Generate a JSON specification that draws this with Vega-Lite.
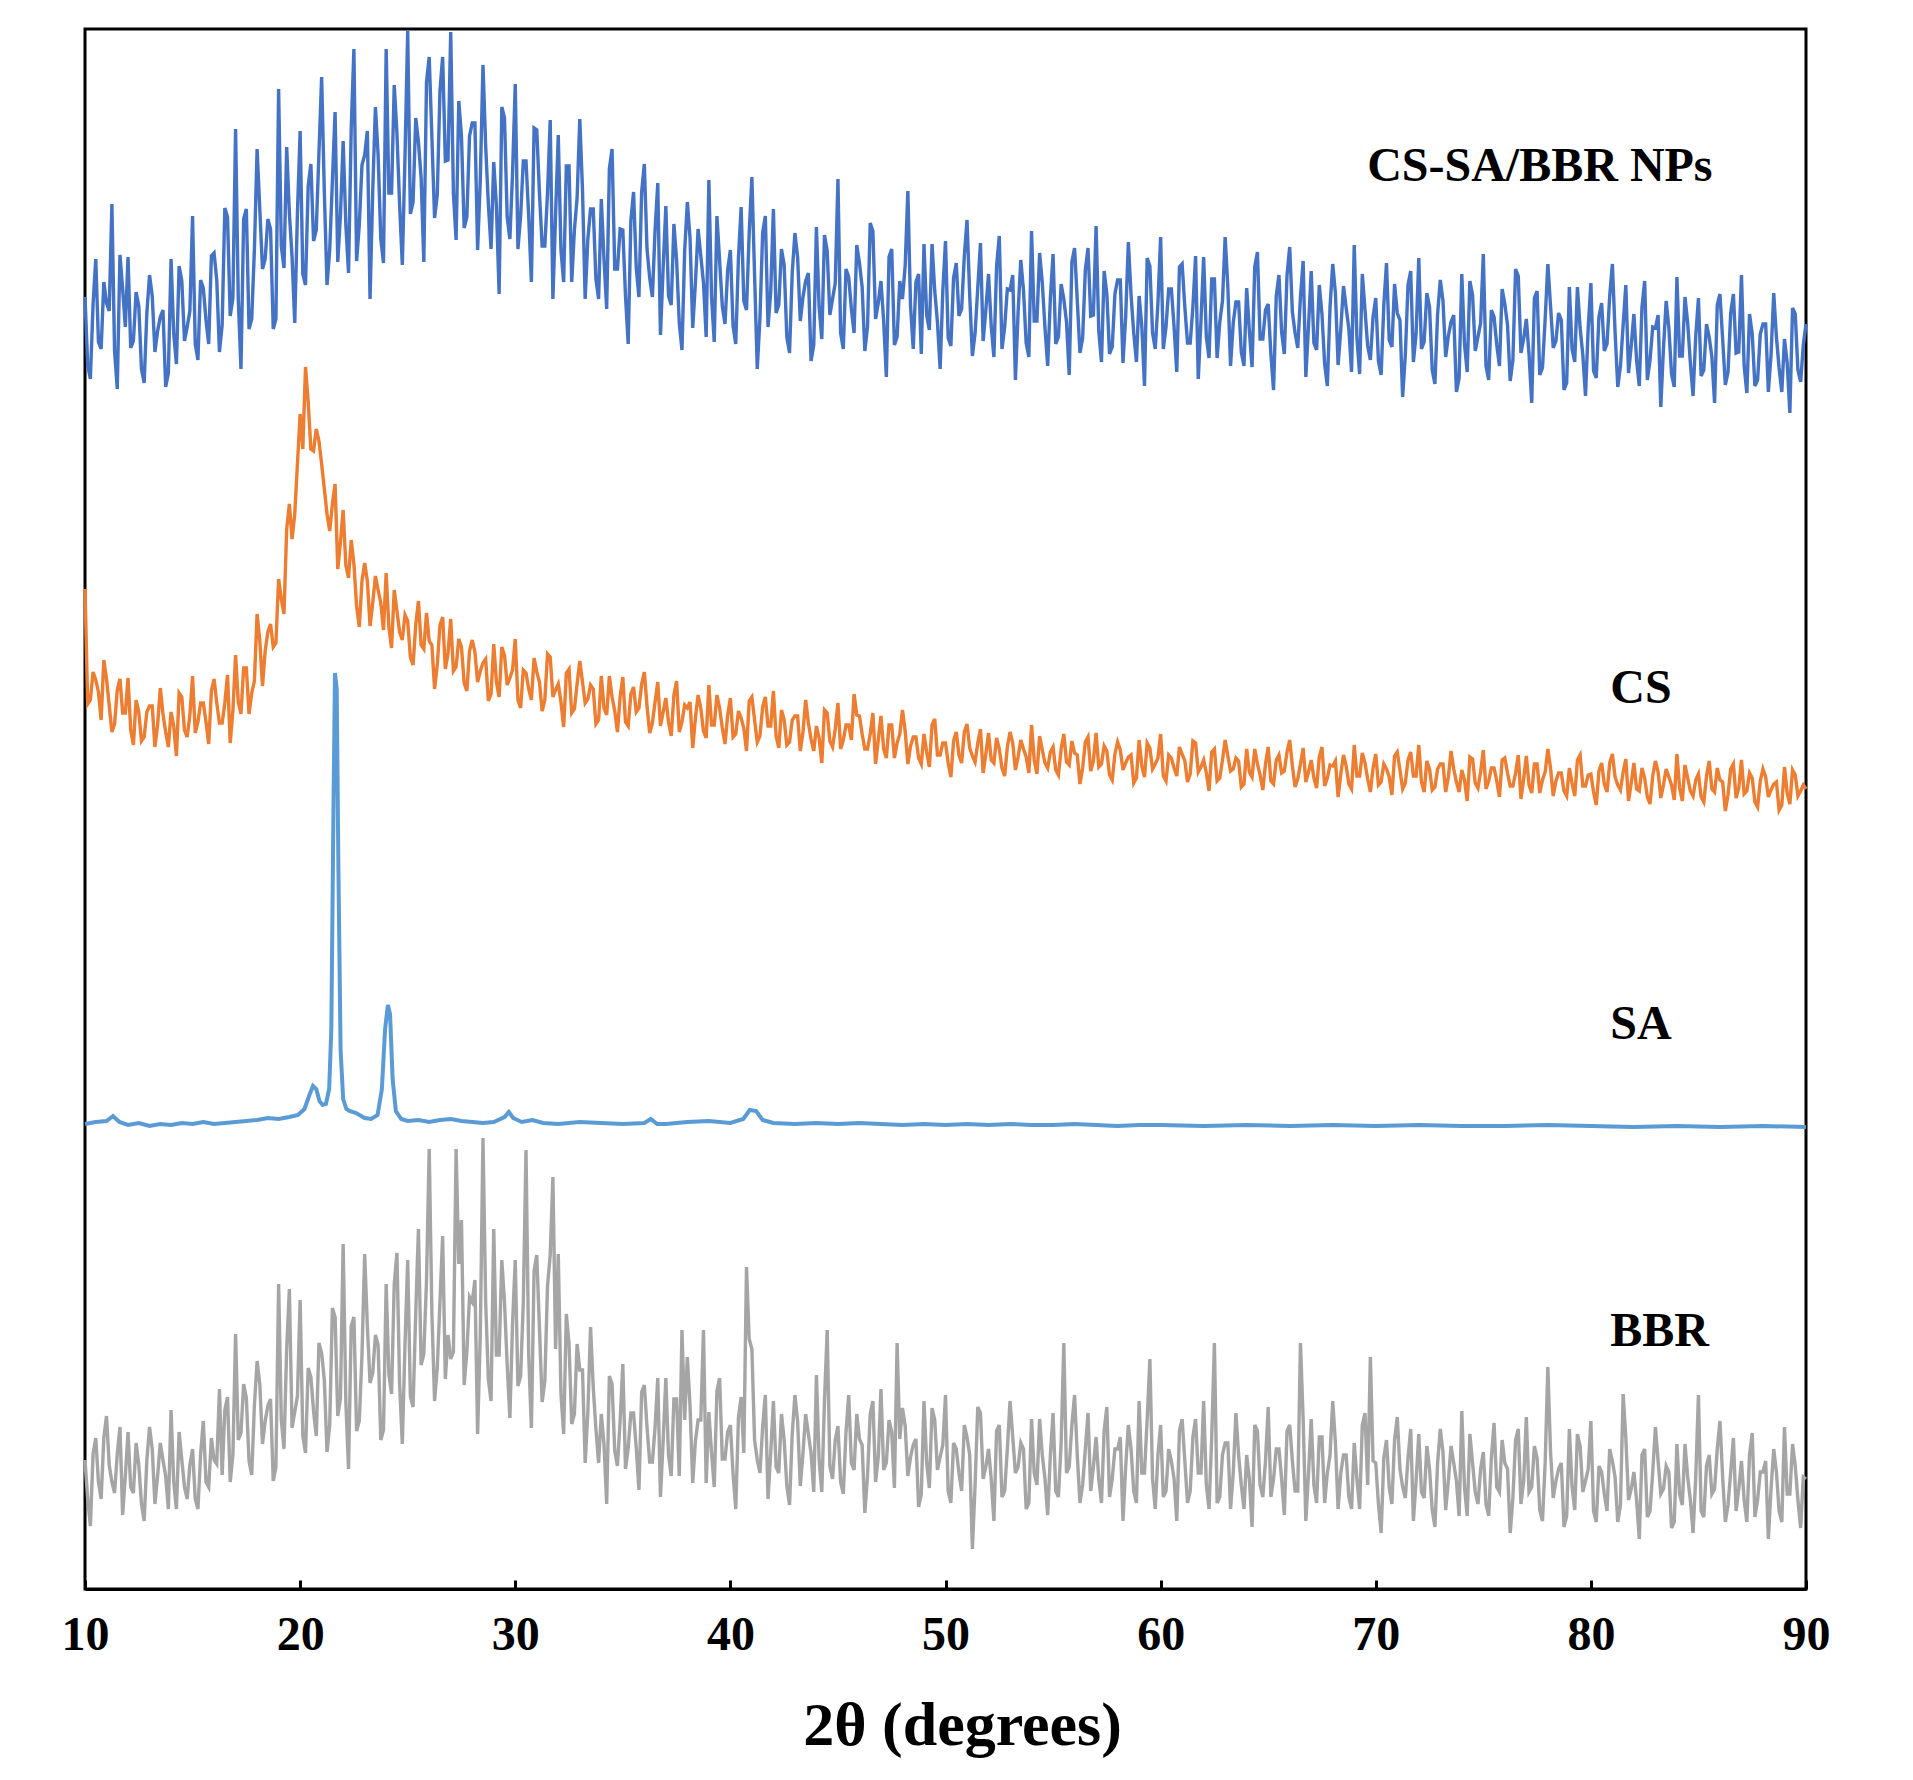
{
  "$schema": "https://vega.github.io/schema/vega-lite/v6.json",
  "width": 1721,
  "height": 1560,
  "autosize": {"type": "none"},
  "padding": {"left": 85, "top": 29, "right": 107, "bottom": 191},
  "background": "white",
  "config": {
    "view": {"stroke": "black", "strokeWidth": 3},
    "line": {"strokeJoin": "miter"}
  },
  "datasets": {
    "csSaBbrNps": [
      {"t":10,"i":1292},{"t":10.25,"i":1210},{"t":10.5,"i":1330},{"t":10.75,"i":1240},
      {"t":11,"i":1286},{"t":11.25,"i":1385},{"t":11.5,"i":1200},{"t":11.75,"i":1300},
      {"t":12,"i":1332},{"t":12.25,"i":1248},{"t":12.5,"i":1283},{"t":12.75,"i":1206},
      {"t":13,"i":1314},{"t":13.25,"i":1237},{"t":13.5,"i":1272},{"t":13.75,"i":1202},
      {"t":14,"i":1330},{"t":14.25,"i":1225},{"t":14.5,"i":1308},{"t":14.75,"i":1262},
      {"t":15,"i":1373},{"t":15.25,"i":1229},{"t":15.5,"i":1301},{"t":15.75,"i":1245},
      {"t":16,"i":1336},{"t":16.25,"i":1237},{"t":16.5,"i":1381},{"t":16.75,"i":1273},
      {"t":17,"i":1460},{"t":17.25,"i":1220},{"t":17.5,"i":1380},{"t":17.75,"i":1270},
      {"t":18,"i":1440},{"t":18.25,"i":1320},{"t":18.5,"i":1370},{"t":18.75,"i":1260},
      {"t":19,"i":1500},{"t":19.25,"i":1321},{"t":19.5,"i":1376},{"t":19.75,"i":1266},
      {"t":20,"i":1458},{"t":20.25,"i":1304},{"t":20.5,"i":1425},{"t":20.75,"i":1359},
      {"t":21,"i":1512},{"t":21.25,"i":1304},{"t":21.5,"i":1408},{"t":21.75,"i":1327},
      {"t":22,"i":1448},{"t":22.25,"i":1316},{"t":22.5,"i":1540},{"t":22.75,"i":1364},
      {"t":23,"i":1434},{"t":23.25,"i":1290},{"t":23.5,"i":1482},{"t":23.75,"i":1350},
      {"t":24,"i":1540},{"t":24.25,"i":1396},{"t":24.5,"i":1456},{"t":24.75,"i":1324},
      {"t":25,"i":1558},{"t":25.25,"i":1387},{"t":25.5,"i":1447},{"t":25.75,"i":1327},
      {"t":26,"i":1532},{"t":26.25,"i":1371},{"t":26.5,"i":1498},{"t":26.75,"i":1428},
      {"t":27,"i":1557},{"t":27.25,"i":1349},{"t":27.5,"i":1453},{"t":27.75,"i":1372},
      {"t":28,"i":1466},{"t":28.25,"i":1339},{"t":28.5,"i":1524},{"t":28.75,"i":1385},
      {"t":29,"i":1427},{"t":29.25,"i":1295},{"t":29.5,"i":1471},{"t":29.75,"i":1350},
      {"t":30,"i":1505},{"t":30.25,"i":1373},{"t":30.5,"i":1428},{"t":30.75,"i":1307},
      {"t":31,"i":1459},{"t":31.25,"i":1343},{"t":31.5,"i":1396},{"t":31.75,"i":1290},
      {"t":32,"i":1454},{"t":32.25,"i":1307},{"t":32.5,"i":1423},{"t":32.75,"i":1359},
      {"t":33,"i":1470},{"t":33.25,"i":1290},{"t":33.5,"i":1380},{"t":33.75,"i":1310},
      {"t":34,"i":1390},{"t":34.25,"i":1280},{"t":34.5,"i":1440},{"t":34.75,"i":1320},
      {"t":35,"i":1359},{"t":35.25,"i":1245},{"t":35.5,"i":1397},{"t":35.75,"i":1292},
      {"t":36,"i":1425},{"t":36.25,"i":1311},{"t":36.5,"i":1359},{"t":36.75,"i":1254},
      {"t":37,"i":1383},{"t":37.25,"i":1284},{"t":37.5,"i":1329},{"t":37.75,"i":1239},
      {"t":38,"i":1387},{"t":38.25,"i":1261},{"t":38.5,"i":1360},{"t":38.75,"i":1306},
      {"t":39,"i":1409},{"t":39.25,"i":1247},{"t":39.5,"i":1328},{"t":39.75,"i":1265},
      {"t":40,"i":1339},{"t":40.25,"i":1245},{"t":40.5,"i":1382},{"t":40.75,"i":1279},
      {"t":41,"i":1412},{"t":41.25,"i":1220},{"t":41.5,"i":1356},{"t":41.75,"i":1262},
      {"t":42,"i":1380},{"t":42.25,"i":1284},{"t":42.5,"i":1324},{"t":42.75,"i":1236},
      {"t":43,"i":1356},{"t":43.25,"i":1268},{"t":43.5,"i":1308},{"t":43.75,"i":1228},
      {"t":44,"i":1362},{"t":44.25,"i":1250},{"t":44.5,"i":1338},{"t":44.75,"i":1290},
      {"t":45,"i":1410},{"t":45.25,"i":1240},{"t":45.5,"i":1312},{"t":45.75,"i":1256},
      {"t":46,"i":1326},{"t":46.25,"i":1238},{"t":46.5,"i":1366},{"t":46.75,"i":1270},
      {"t":47,"i":1308},{"t":47.25,"i":1212},{"t":47.5,"i":1340},{"t":47.75,"i":1252},
      {"t":48,"i":1290},{"t":48.25,"i":1398},{"t":48.5,"i":1240},{"t":48.75,"i":1315},
      {"t":49,"i":1345},{"t":49.25,"i":1259},{"t":49.5,"i":1298},{"t":49.75,"i":1220},
      {"t":50,"i":1348},{"t":50.25,"i":1243},{"t":50.5,"i":1326},{"t":50.75,"i":1280},
      {"t":51,"i":1369},{"t":51.25,"i":1233},{"t":51.5,"i":1301},{"t":51.75,"i":1248},
      {"t":52,"i":1315},{"t":52.25,"i":1232},{"t":52.5,"i":1353},{"t":52.75,"i":1262},
      {"t":53,"i":1299},{"t":53.25,"i":1209},{"t":53.5,"i":1329},{"t":53.75,"i":1246},
      {"t":54,"i":1358},{"t":54.25,"i":1268},{"t":54.5,"i":1306},{"t":54.75,"i":1223},
      {"t":55,"i":1335},{"t":55.25,"i":1252},{"t":55.5,"i":1290},{"t":55.75,"i":1214},
      {"t":56,"i":1341},{"t":56.25,"i":1236},{"t":56.5,"i":1319},{"t":56.75,"i":1273},
      {"t":57,"i":1363},{"t":57.25,"i":1227},{"t":57.5,"i":1295},{"t":57.75,"i":1242},
      {"t":58,"i":1309},{"t":58.25,"i":1226},{"t":58.5,"i":1347},{"t":58.75,"i":1256},
      {"t":59,"i":1293},{"t":59.25,"i":1203},{"t":59.5,"i":1323},{"t":59.75,"i":1240},
      {"t":60,"i":1352},{"t":60.25,"i":1262},{"t":60.5,"i":1300},{"t":60.75,"i":1217},
      {"t":61,"i":1325},{"t":61.25,"i":1246},{"t":61.5,"i":1282},{"t":61.75,"i":1210},
      {"t":62,"i":1332},{"t":62.25,"i":1231},{"t":62.5,"i":1310},{"t":62.75,"i":1267},
      {"t":63,"i":1352},{"t":63.25,"i":1223},{"t":63.5,"i":1287},{"t":63.75,"i":1237},
      {"t":64,"i":1301},{"t":64.25,"i":1222},{"t":64.5,"i":1337},{"t":64.75,"i":1250},
      {"t":65,"i":1285},{"t":65.25,"i":1199},{"t":65.5,"i":1314},{"t":65.75,"i":1235},
      {"t":66,"i":1342},{"t":66.25,"i":1256},{"t":66.5,"i":1292},{"t":66.75,"i":1212},
      {"t":67,"i":1318},{"t":67.25,"i":1239},{"t":67.5,"i":1275},{"t":67.75,"i":1203},
      {"t":68,"i":1325},{"t":68.25,"i":1224},{"t":68.5,"i":1303},{"t":68.75,"i":1260},
      {"t":69,"i":1344},{"t":69.25,"i":1215},{"t":69.5,"i":1279},{"t":69.75,"i":1229},
      {"t":70,"i":1291},{"t":70.25,"i":1214},{"t":70.5,"i":1326},{"t":70.75,"i":1242},
      {"t":71,"i":1276},{"t":71.25,"i":1192},{"t":71.5,"i":1304},{"t":71.75,"i":1227},
      {"t":72,"i":1331},{"t":72.25,"i":1247},{"t":72.5,"i":1282},{"t":72.75,"i":1205},
      {"t":73,"i":1309},{"t":73.25,"i":1232},{"t":73.5,"i":1267},{"t":73.75,"i":1197},
      {"t":74,"i":1315},{"t":74.25,"i":1217},{"t":74.5,"i":1294},{"t":74.75,"i":1252},
      {"t":75,"i":1335},{"t":75.25,"i":1209},{"t":75.5,"i":1272},{"t":75.75,"i":1223},
      {"t":76,"i":1285},{"t":76.25,"i":1208},{"t":76.5,"i":1320},{"t":76.75,"i":1236},
      {"t":77,"i":1270},{"t":77.25,"i":1186},{"t":77.5,"i":1298},{"t":77.75,"i":1221},
      {"t":78,"i":1325},{"t":78.25,"i":1241},{"t":78.5,"i":1276},{"t":78.75,"i":1199},
      {"t":79,"i":1302},{"t":79.25,"i":1227},{"t":79.5,"i":1261},{"t":79.75,"i":1193},
      {"t":80,"i":1306},{"t":80.25,"i":1211},{"t":80.5,"i":1286},{"t":80.75,"i":1245},
      {"t":81,"i":1325},{"t":81.25,"i":1202},{"t":81.5,"i":1264},{"t":81.75,"i":1216},
      {"t":82,"i":1275},{"t":82.25,"i":1203},{"t":82.5,"i":1308},{"t":82.75,"i":1229},
      {"t":83,"i":1261},{"t":83.25,"i":1182},{"t":83.5,"i":1288},{"t":83.75,"i":1215},
      {"t":84,"i":1312},{"t":84.25,"i":1233},{"t":84.5,"i":1266},{"t":84.75,"i":1193},
      {"t":85,"i":1291},{"t":85.25,"i":1219},{"t":85.5,"i":1252},{"t":85.75,"i":1186},
      {"t":86,"i":1295},{"t":86.25,"i":1204},{"t":86.5,"i":1276},{"t":86.75,"i":1236},
      {"t":87,"i":1314},{"t":87.25,"i":1196},{"t":87.5,"i":1255},{"t":87.75,"i":1209},
      {"t":88,"i":1265},{"t":88.25,"i":1197},{"t":88.5,"i":1296},{"t":88.75,"i":1221},
      {"t":89,"i":1250},{"t":89.25,"i":1176},{"t":89.5,"i":1275},{"t":89.75,"i":1207},
      {"t":90,"i":1265},
      {"t":10.125,"i":1224},{"t":10.375,"i":1285},{"t":10.625,"i":1247},{"t":10.875,"i":1307},
      {"t":11.125,"i":1278},{"t":11.375,"i":1238},{"t":11.625,"i":1334},{"t":11.875,"i":1262},
      {"t":12.125,"i":1241},{"t":12.375,"i":1297},{"t":12.625,"i":1220},{"t":12.875,"i":1276},
      {"t":13.125,"i":1293},{"t":13.375,"i":1258},{"t":13.625,"i":1279},{"t":13.875,"i":1216},
      {"t":14.125,"i":1255},{"t":14.375,"i":1323},{"t":14.625,"i":1248},{"t":14.875,"i":1278},
      {"t":15.125,"i":1245},{"t":15.375,"i":1309},{"t":15.625,"i":1269},{"t":15.875,"i":1333},
      {"t":16.125,"i":1309},{"t":16.375,"i":1264},{"t":16.625,"i":1372},{"t":16.875,"i":1291},
      {"t":17.125,"i":1290},{"t":17.375,"i":1370},{"t":17.625,"i":1260},{"t":17.875,"i":1340},
      {"t":18.125,"i":1380},{"t":18.375,"i":1330},{"t":18.625,"i":1360},{"t":18.875,"i":1270},
      {"t":19.125,"i":1343},{"t":19.375,"i":1442},{"t":19.625,"i":1332},{"t":19.875,"i":1376},
      {"t":20.125,"i":1315},{"t":20.375,"i":1403},{"t":20.625,"i":1348},{"t":20.875,"i":1436},
      {"t":21.125,"i":1397},{"t":21.375,"i":1339},{"t":21.625,"i":1477},{"t":21.875,"i":1374},
      {"t":22.125,"i":1364},{"t":22.375,"i":1460},{"t":22.625,"i":1328},{"t":22.875,"i":1424},
      {"t":23.125,"i":1458},{"t":23.375,"i":1398},{"t":23.625,"i":1434},{"t":23.875,"i":1326},
      {"t":24.125,"i":1396},{"t":24.375,"i":1504},{"t":24.625,"i":1384},{"t":24.875,"i":1432},
      {"t":25.125,"i":1375},{"t":25.375,"i":1471},{"t":25.625,"i":1411},{"t":25.875,"i":1507},
      {"t":26.125,"i":1452},{"t":26.375,"i":1394},{"t":26.625,"i":1532},{"t":26.875,"i":1429},
      {"t":27.125,"i":1396},{"t":27.375,"i":1488},{"t":27.625,"i":1361},{"t":27.875,"i":1453},
      {"t":28.125,"i":1466},{"t":28.375,"i":1409},{"t":28.625,"i":1443},{"t":28.875,"i":1340},
      {"t":29.125,"i":1383},{"t":29.375,"i":1482},{"t":29.625,"i":1372},{"t":29.875,"i":1416},
      {"t":30.125,"i":1340},{"t":30.375,"i":1428},{"t":30.625,"i":1373},{"t":30.875,"i":1461},
      {"t":31.125,"i":1396},{"t":31.375,"i":1343},{"t":31.625,"i":1469},{"t":31.875,"i":1375},
      {"t":32.125,"i":1339},{"t":32.375,"i":1423},{"t":32.625,"i":1307},{"t":32.875,"i":1391},
      {"t":33.125,"i":1400},{"t":33.375,"i":1350},{"t":33.625,"i":1380},{"t":33.875,"i":1290},
      {"t":34.125,"i":1330},{"t":34.375,"i":1420},{"t":34.625,"i":1320},{"t":34.875,"i":1360},
      {"t":35.125,"i":1293},{"t":35.375,"i":1369},{"t":35.625,"i":1321},{"t":35.875,"i":1397},
      {"t":36.125,"i":1340},{"t":36.375,"i":1292},{"t":36.625,"i":1406},{"t":36.875,"i":1321},
      {"t":37.125,"i":1293},{"t":37.375,"i":1365},{"t":37.625,"i":1266},{"t":37.875,"i":1338},
      {"t":38.125,"i":1351},{"t":38.375,"i":1306},{"t":38.625,"i":1333},{"t":38.875,"i":1252},
      {"t":39.125,"i":1292},{"t":39.375,"i":1373},{"t":39.625,"i":1283},{"t":39.875,"i":1319},
      {"t":40.125,"i":1263},{"t":40.375,"i":1331},{"t":40.625,"i":1288},{"t":40.875,"i":1356},
      {"t":41.125,"i":1314},{"t":41.375,"i":1271},{"t":41.625,"i":1373},{"t":41.875,"i":1297},
      {"t":42.125,"i":1276},{"t":42.375,"i":1340},{"t":42.625,"i":1252},{"t":42.875,"i":1316},
      {"t":43.125,"i":1332},{"t":43.375,"i":1292},{"t":43.625,"i":1316},{"t":43.875,"i":1244},
      {"t":44.125,"i":1282},{"t":44.375,"i":1354},{"t":44.625,"i":1274},{"t":44.875,"i":1306},
      {"t":45.125,"i":1256},{"t":45.375,"i":1320},{"t":45.625,"i":1280},{"t":45.875,"i":1344},
      {"t":46.125,"i":1302},{"t":46.375,"i":1262},{"t":46.625,"i":1358},{"t":46.875,"i":1286},
      {"t":47.125,"i":1268},{"t":47.375,"i":1332},{"t":47.625,"i":1244},{"t":47.875,"i":1308},
      {"t":48.125,"i":1323},{"t":48.375,"i":1283},{"t":48.625,"i":1307},{"t":48.875,"i":1235},
      {"t":49.125,"i":1274},{"t":49.375,"i":1345},{"t":49.625,"i":1267},{"t":49.875,"i":1298},
      {"t":50.125,"i":1251},{"t":50.375,"i":1311},{"t":50.625,"i":1273},{"t":50.875,"i":1333},
      {"t":51.125,"i":1294},{"t":51.375,"i":1256},{"t":51.625,"i":1346},{"t":51.875,"i":1279},
      {"t":52.125,"i":1263},{"t":52.375,"i":1323},{"t":52.625,"i":1240},{"t":52.875,"i":1300},
      {"t":53.125,"i":1314},{"t":53.375,"i":1277},{"t":53.625,"i":1299},{"t":53.875,"i":1232},
      {"t":54.125,"i":1268},{"t":54.375,"i":1336},{"t":54.625,"i":1261},{"t":54.875,"i":1291},
      {"t":55.125,"i":1245},{"t":55.375,"i":1305},{"t":55.625,"i":1267},{"t":55.875,"i":1327},
      {"t":56.125,"i":1289},{"t":56.375,"i":1251},{"t":56.625,"i":1341},{"t":56.875,"i":1274},
      {"t":57.125,"i":1258},{"t":57.375,"i":1318},{"t":57.625,"i":1235},{"t":57.875,"i":1295},
      {"t":58.125,"i":1309},{"t":58.375,"i":1272},{"t":58.625,"i":1294},{"t":58.875,"i":1227},
      {"t":59.125,"i":1263},{"t":59.375,"i":1331},{"t":59.625,"i":1256},{"t":59.875,"i":1286},
      {"t":60.125,"i":1240},{"t":60.375,"i":1300},{"t":60.625,"i":1262},{"t":60.875,"i":1322},
      {"t":61.125,"i":1282},{"t":61.375,"i":1246},{"t":61.625,"i":1333},{"t":61.875,"i":1268},
      {"t":62.125,"i":1252},{"t":62.375,"i":1310},{"t":62.625,"i":1231},{"t":62.875,"i":1288},
      {"t":63.125,"i":1302},{"t":63.375,"i":1266},{"t":63.625,"i":1287},{"t":63.875,"i":1223},
      {"t":64.125,"i":1258},{"t":64.375,"i":1322},{"t":64.625,"i":1250},{"t":64.875,"i":1279},
      {"t":65.125,"i":1235},{"t":65.375,"i":1293},{"t":65.625,"i":1257},{"t":65.875,"i":1314},
      {"t":66.125,"i":1277},{"t":66.375,"i":1241},{"t":66.625,"i":1328},{"t":66.875,"i":1263},
      {"t":67.125,"i":1246},{"t":67.375,"i":1304},{"t":67.625,"i":1225},{"t":67.875,"i":1282},
      {"t":68.125,"i":1296},{"t":68.375,"i":1260},{"t":68.625,"i":1281},{"t":68.875,"i":1217},
      {"t":69.125,"i":1251},{"t":69.375,"i":1315},{"t":69.625,"i":1243},{"t":69.875,"i":1272},
      {"t":70.125,"i":1228},{"t":70.375,"i":1284},{"t":70.625,"i":1249},{"t":70.875,"i":1305},
      {"t":71.125,"i":1269},{"t":71.375,"i":1234},{"t":71.625,"i":1318},{"t":71.875,"i":1255},
      {"t":72.125,"i":1240},{"t":72.375,"i":1296},{"t":72.625,"i":1219},{"t":72.875,"i":1275},
      {"t":73.125,"i":1288},{"t":73.375,"i":1253},{"t":73.625,"i":1274},{"t":73.875,"i":1211},
      {"t":74.125,"i":1245},{"t":74.375,"i":1308},{"t":74.625,"i":1238},{"t":74.875,"i":1266},
      {"t":75.125,"i":1223},{"t":75.375,"i":1279},{"t":75.625,"i":1244},{"t":75.875,"i":1300},
      {"t":76.125,"i":1264},{"t":76.375,"i":1229},{"t":76.625,"i":1313},{"t":76.875,"i":1250},
      {"t":77.125,"i":1235},{"t":77.375,"i":1291},{"t":77.625,"i":1214},{"t":77.875,"i":1270},
      {"t":78.125,"i":1283},{"t":78.375,"i":1248},{"t":78.625,"i":1269},{"t":78.875,"i":1206},
      {"t":79.125,"i":1240},{"t":79.375,"i":1302},{"t":79.625,"i":1234},{"t":79.875,"i":1261},
      {"t":80.125,"i":1218},{"t":80.375,"i":1272},{"t":80.625,"i":1238},{"t":80.875,"i":1293},
      {"t":81.125,"i":1257},{"t":81.375,"i":1223},{"t":81.625,"i":1304},{"t":81.875,"i":1243},
      {"t":82.125,"i":1229},{"t":82.375,"i":1282},{"t":82.625,"i":1209},{"t":82.875,"i":1262},
      {"t":83.125,"i":1274},{"t":83.375,"i":1241},{"t":83.625,"i":1261},{"t":83.875,"i":1202},
      {"t":84.125,"i":1233},{"t":84.375,"i":1292},{"t":84.625,"i":1226},{"t":84.875,"i":1253},
      {"t":85.125,"i":1213},{"t":85.375,"i":1265},{"t":85.625,"i":1232},{"t":85.875,"i":1284},
      {"t":86.125,"i":1250},{"t":86.375,"i":1217},{"t":86.625,"i":1295},{"t":86.875,"i":1237},
      {"t":87.125,"i":1223},{"t":87.375,"i":1275},{"t":87.625,"i":1203},{"t":87.875,"i":1255},
      {"t":88.125,"i":1265},{"t":88.375,"i":1234},{"t":88.625,"i":1252},{"t":88.875,"i":1197},
      {"t":89.125,"i":1226},{"t":89.375,"i":1281},{"t":89.625,"i":1219},{"t":89.875,"i":1244}
    ],
    "cs": [
      {"t":10,"i":1000},{"t":10.25,"i":889},{"t":10.5,"i":909},{"t":10.75,"i":869},
      {"t":11,"i":910},{"t":11.25,"i":857},{"t":11.5,"i":899},{"t":11.75,"i":876},
      {"t":12,"i":911},{"t":12.25,"i":844},{"t":12.5,"i":877},{"t":12.75,"i":852},
      {"t":13,"i":883},{"t":13.25,"i":842},{"t":13.5,"i":901},{"t":13.75,"i":857},
      {"t":14,"i":877},{"t":14.25,"i":833},{"t":14.5,"i":892},{"t":14.75,"i":852},
      {"t":15,"i":913},{"t":15.25,"i":867},{"t":15.5,"i":886},{"t":15.75,"i":845},
      {"t":16,"i":910},{"t":16.25,"i":866},{"t":16.5,"i":886},{"t":16.75,"i":846},
      {"t":17,"i":934},{"t":17.25,"i":875},{"t":17.5,"i":921},{"t":17.75,"i":896},
      {"t":18,"i":975},{"t":18.25,"i":903},{"t":18.5,"i":957},{"t":18.75,"i":942},
      {"t":19,"i":1010},{"t":19.25,"i":975},{"t":19.5,"i":1085},{"t":19.75,"i":1075},
      {"t":20,"i":1175},{"t":20.25,"i":1222},{"t":20.5,"i":1140},{"t":20.75,"i":1160},
      {"t":21,"i":1125},{"t":21.25,"i":1075},{"t":21.5,"i":1085},{"t":21.75,"i":1020},
      {"t":22,"i":1079},{"t":22.25,"i":1011},{"t":22.5,"i":1025},{"t":22.75,"i":962},
      {"t":23,"i":1026},{"t":23.25,"i":963},{"t":23.5,"i":1013},{"t":23.75,"i":986},
      {"t":24,"i":1016},{"t":24.25,"i":941},{"t":24.5,"i":978},{"t":24.75,"i":949},
      {"t":25,"i":968},{"t":25.25,"i":924},{"t":25.5,"i":988},{"t":25.75,"i":940},
      {"t":26,"i":948},{"t":26.25,"i":900},{"t":26.5,"i":964},{"t":26.75,"i":920},
      {"t":27,"i":970},{"t":27.25,"i":922},{"t":27.5,"i":942},{"t":27.75,"i":898},
      {"t":28,"i":949},{"t":28.25,"i":907},{"t":28.5,"i":926},{"t":28.75,"i":888},
      {"t":29,"i":945},{"t":29.25,"i":892},{"t":29.5,"i":934},{"t":29.75,"i":911},
      {"t":30,"i":950},{"t":30.25,"i":881},{"t":30.5,"i":916},{"t":30.75,"i":889},
      {"t":31,"i":917},{"t":31.25,"i":878},{"t":31.5,"i":935},{"t":31.75,"i":892},
      {"t":32,"i":905},{"t":32.25,"i":862},{"t":32.5,"i":920},{"t":32.75,"i":880},
      {"t":33,"i":928},{"t":33.25,"i":886},{"t":33.5,"i":904},{"t":33.75,"i":865},
      {"t":34,"i":913},{"t":34.25,"i":874},{"t":34.5,"i":892},{"t":34.75,"i":857},
      {"t":35,"i":912},{"t":35.25,"i":863},{"t":35.5,"i":902},{"t":35.75,"i":881},
      {"t":36,"i":917},{"t":36.25,"i":856},{"t":36.5,"i":887},{"t":36.75,"i":863},
      {"t":37,"i":891},{"t":37.25,"i":853},{"t":37.5,"i":908},{"t":37.75,"i":867},
      {"t":38,"i":881},{"t":38.25,"i":841},{"t":38.5,"i":894},{"t":38.75,"i":858},
      {"t":39,"i":904},{"t":39.25,"i":864},{"t":39.5,"i":881},{"t":39.75,"i":845},
      {"t":40,"i":891},{"t":40.25,"i":855},{"t":40.5,"i":871},{"t":40.75,"i":838},
      {"t":41,"i":892},{"t":41.25,"i":847},{"t":41.5,"i":882},{"t":41.75,"i":863},
      {"t":42,"i":898},{"t":42.25,"i":841},{"t":42.5,"i":869},{"t":42.75,"i":847},
      {"t":43,"i":873},{"t":43.25,"i":838},{"t":43.5,"i":889},{"t":43.75,"i":850},
      {"t":44,"i":863},{"t":44.25,"i":826},{"t":44.5,"i":876},{"t":44.75,"i":842},
      {"t":45,"i":886},{"t":45.25,"i":849},{"t":45.5,"i":864},{"t":45.75,"i":895},
      {"t":46,"i":873},{"t":46.25,"i":840},{"t":46.5,"i":855},{"t":46.75,"i":825},
      {"t":47,"i":873},{"t":47.25,"i":831},{"t":47.5,"i":864},{"t":47.75,"i":846},
      {"t":48,"i":879},{"t":48.25,"i":825},{"t":48.5,"i":852},{"t":48.75,"i":831},
      {"t":49,"i":855},{"t":49.25,"i":822},{"t":49.5,"i":870},{"t":49.75,"i":834},
      {"t":50,"i":846},{"t":50.25,"i":812},{"t":50.5,"i":857},{"t":50.75,"i":826},
      {"t":51,"i":865},{"t":51.25,"i":833},{"t":51.5,"i":846},{"t":51.75,"i":816},
      {"t":52,"i":856},{"t":52.25,"i":826},{"t":52.5,"i":840},{"t":52.75,"i":813},
      {"t":53,"i":857},{"t":53.25,"i":819},{"t":53.5,"i":849},{"t":53.75,"i":832},
      {"t":54,"i":864},{"t":54.25,"i":815},{"t":54.5,"i":839},{"t":54.75,"i":821},
      {"t":55,"i":842},{"t":55.25,"i":814},{"t":55.5,"i":855},{"t":55.75,"i":824},
      {"t":56,"i":836},{"t":56.25,"i":805},{"t":56.5,"i":847},{"t":56.75,"i":818},
      {"t":57,"i":856},{"t":57.25,"i":825},{"t":57.5,"i":838},{"t":57.75,"i":809},
      {"t":58,"i":847},{"t":58.25,"i":819},{"t":58.5,"i":832},{"t":58.75,"i":806},
      {"t":59,"i":849},{"t":59.25,"i":812},{"t":59.5,"i":841},{"t":59.75,"i":825},
      {"t":60,"i":855},{"t":60.25,"i":808},{"t":60.5,"i":831},{"t":60.75,"i":813},
      {"t":61,"i":835},{"t":61.25,"i":807},{"t":61.5,"i":848},{"t":61.75,"i":817},
      {"t":62,"i":829},{"t":62.25,"i":798},{"t":62.5,"i":840},{"t":62.75,"i":811},
      {"t":63,"i":849},{"t":63.25,"i":818},{"t":63.5,"i":831},{"t":63.75,"i":802},
      {"t":64,"i":840},{"t":64.25,"i":812},{"t":64.5,"i":825},{"t":64.75,"i":799},
      {"t":65,"i":842},{"t":65.25,"i":805},{"t":65.5,"i":834},{"t":65.75,"i":818},
      {"t":66,"i":849},{"t":66.25,"i":802},{"t":66.5,"i":825},{"t":66.75,"i":807},
      {"t":67,"i":829},{"t":67.25,"i":801},{"t":67.5,"i":842},{"t":67.75,"i":811},
      {"t":68,"i":823},{"t":68.25,"i":792},{"t":68.5,"i":834},{"t":68.75,"i":805},
      {"t":69,"i":844},{"t":69.25,"i":813},{"t":69.5,"i":826},{"t":69.75,"i":797},
      {"t":70,"i":835},{"t":70.25,"i":807},{"t":70.5,"i":820},{"t":70.75,"i":794},
      {"t":71,"i":837},{"t":71.25,"i":800},{"t":71.5,"i":829},{"t":71.75,"i":813},
      {"t":72,"i":844},{"t":72.25,"i":797},{"t":72.5,"i":820},{"t":72.75,"i":802},
      {"t":73,"i":825},{"t":73.25,"i":797},{"t":73.5,"i":838},{"t":73.75,"i":807},
      {"t":74,"i":819},{"t":74.25,"i":788},{"t":74.5,"i":830},{"t":74.75,"i":801},
      {"t":75,"i":839},{"t":75.25,"i":808},{"t":75.5,"i":821},{"t":75.75,"i":792},
      {"t":76,"i":831},{"t":76.25,"i":803},{"t":76.5,"i":816},{"t":76.75,"i":790},
      {"t":77,"i":833},{"t":77.25,"i":796},{"t":77.5,"i":825},{"t":77.75,"i":809},
      {"t":78,"i":840},{"t":78.25,"i":793},{"t":78.5,"i":816},{"t":78.75,"i":798},
      {"t":79,"i":821},{"t":79.25,"i":793},{"t":79.5,"i":834},{"t":79.75,"i":803},
      {"t":80,"i":815},{"t":80.25,"i":784},{"t":80.5,"i":826},{"t":80.75,"i":797},
      {"t":81,"i":835},{"t":81.25,"i":804},{"t":81.5,"i":817},{"t":81.75,"i":788},
      {"t":82,"i":826},{"t":82.25,"i":798},{"t":82.5,"i":811},{"t":82.75,"i":785},
      {"t":83,"i":828},{"t":83.25,"i":791},{"t":83.5,"i":820},{"t":83.75,"i":804},
      {"t":84,"i":835},{"t":84.25,"i":788},{"t":84.5,"i":811},{"t":84.75,"i":793},
      {"t":85,"i":815},{"t":85.25,"i":787},{"t":85.5,"i":828},{"t":85.75,"i":797},
      {"t":86,"i":809},{"t":86.25,"i":778},{"t":86.5,"i":820},{"t":86.75,"i":791},
      {"t":87,"i":829},{"t":87.25,"i":798},{"t":87.5,"i":811},{"t":87.75,"i":782},
      {"t":88,"i":820},{"t":88.25,"i":792},{"t":88.5,"i":805},{"t":88.75,"i":779},
      {"t":89,"i":822},{"t":89.25,"i":785},{"t":89.5,"i":814},{"t":89.75,"i":798},
      {"t":90,"i":800},
      {"t":10.125,"i":885},{"t":10.375,"i":917},{"t":10.625,"i":897},{"t":10.875,"i":929},
      {"t":11.125,"i":884},{"t":11.375,"i":865},{"t":11.625,"i":910},{"t":11.875,"i":876},
      {"t":12.125,"i":859},{"t":12.375,"i":889},{"t":12.625,"i":848},{"t":12.875,"i":877},
      {"t":13.125,"i":883},{"t":13.375,"i":864},{"t":13.625,"i":875},{"t":13.875,"i":842},
      {"t":14.125,"i":863},{"t":14.375,"i":896},{"t":14.625,"i":859},{"t":14.875,"i":874},
      {"t":15.125,"i":856},{"t":15.375,"i":886},{"t":15.625,"i":867},{"t":15.875,"i":898},
      {"t":16.125,"i":886},{"t":16.375,"i":866},{"t":16.625,"i":914},{"t":16.875,"i":878},
      {"t":17.125,"i":887},{"t":17.375,"i":921},{"t":17.625,"i":875},{"t":17.875,"i":908},
      {"t":18.125,"i":948},{"t":18.375,"i":938},{"t":18.625,"i":965},{"t":18.875,"i":946},
      {"t":19.125,"i":990},{"t":19.375,"i":1060},{"t":19.625,"i":1050},{"t":19.875,"i":1125},
      {"t":20.125,"i":1140},{"t":20.375,"i":1187},{"t":20.625,"i":1138},{"t":20.875,"i":1148},
      {"t":21.125,"i":1100},{"t":21.375,"i":1058},{"t":21.625,"i":1105},{"t":21.875,"i":1047},
      {"t":22.125,"i":1024},{"t":22.375,"i":1049},{"t":22.625,"i":983},{"t":22.875,"i":1008},
      {"t":23.125,"i":1008},{"t":23.375,"i":986},{"t":23.625,"i":999},{"t":23.875,"i":959},
      {"t":24.125,"i":962},{"t":24.375,"i":999},{"t":24.625,"i":957},{"t":24.875,"i":974},
      {"t":25.125,"i":932},{"t":25.375,"i":964},{"t":25.625,"i":944},{"t":25.875,"i":976},
      {"t":26.125,"i":944},{"t":26.375,"i":924},{"t":26.625,"i":972},{"t":26.875,"i":936},
      {"t":27.125,"i":918},{"t":27.375,"i":950},{"t":27.625,"i":906},{"t":27.875,"i":938},
      {"t":28.125,"i":937},{"t":28.375,"i":918},{"t":28.625,"i":930},{"t":28.875,"i":895},
      {"t":29.125,"i":907},{"t":29.375,"i":942},{"t":29.625,"i":904},{"t":29.875,"i":919},
      {"t":30.125,"i":889},{"t":30.375,"i":919},{"t":30.625,"i":900},{"t":30.875,"i":931},
      {"t":31.125,"i":907},{"t":31.375,"i":889},{"t":31.625,"i":932},{"t":31.875,"i":899},
      {"t":32.125,"i":887},{"t":32.375,"i":916},{"t":32.625,"i":876},{"t":32.875,"i":905},
      {"t":33.125,"i":907},{"t":33.375,"i":890},{"t":33.625,"i":900},{"t":33.875,"i":869},
      {"t":34.125,"i":881},{"t":34.375,"i":913},{"t":34.625,"i":878},{"t":34.875,"i":892},
      {"t":35.125,"i":867},{"t":35.375,"i":895},{"t":35.625,"i":877},{"t":35.875,"i":905},
      {"t":36.125,"i":883},{"t":36.375,"i":866},{"t":36.625,"i":907},{"t":36.875,"i":877},
      {"t":37.125,"i":867},{"t":37.375,"i":894},{"t":37.625,"i":857},{"t":37.875,"i":884},
      {"t":38.125,"i":887},{"t":38.375,"i":871},{"t":38.625,"i":881},{"t":38.875,"i":851},
      {"t":39.125,"i":864},{"t":39.375,"i":894},{"t":39.625,"i":861},{"t":39.875,"i":874},
      {"t":40.125,"i":852},{"t":40.375,"i":878},{"t":40.625,"i":861},{"t":40.875,"i":888},
      {"t":41.125,"i":869},{"t":41.375,"i":853},{"t":41.625,"i":892},{"t":41.875,"i":863},
      {"t":42.125,"i":853},{"t":42.375,"i":879},{"t":42.625,"i":844},{"t":42.875,"i":869},
      {"t":43.125,"i":873},{"t":43.375,"i":857},{"t":43.625,"i":866},{"t":43.875,"i":838},
      {"t":44.125,"i":851},{"t":44.375,"i":879},{"t":44.625,"i":848},{"t":44.875,"i":860},
      {"t":45.125,"i":840},{"t":45.375,"i":864},{"t":45.625,"i":849},{"t":45.875,"i":874},
      {"t":46.125,"i":855},{"t":46.375,"i":840},{"t":46.625,"i":876},{"t":46.875,"i":849},
      {"t":47.125,"i":840},{"t":47.375,"i":864},{"t":47.625,"i":831},{"t":47.875,"i":855},
      {"t":48.125,"i":858},{"t":48.375,"i":843},{"t":48.625,"i":852},{"t":48.875,"i":825},
      {"t":49.125,"i":837},{"t":49.375,"i":864},{"t":49.625,"i":834},{"t":49.875,"i":846},
      {"t":50.125,"i":826},{"t":50.375,"i":848},{"t":50.625,"i":834},{"t":50.875,"i":857},
      {"t":51.125,"i":841},{"t":51.375,"i":827},{"t":51.625,"i":860},{"t":51.875,"i":835},
      {"t":52.125,"i":829},{"t":52.375,"i":851},{"t":52.625,"i":821},{"t":52.875,"i":842},
      {"t":53.125,"i":846},{"t":53.375,"i":832},{"t":53.625,"i":840},{"t":53.875,"i":816},
      {"t":54.125,"i":829},{"t":54.375,"i":853},{"t":54.625,"i":826},{"t":54.875,"i":837},
      {"t":55.125,"i":819},{"t":55.375,"i":840},{"t":55.625,"i":827},{"t":55.875,"i":848},
      {"t":56.125,"i":834},{"t":56.375,"i":821},{"t":56.625,"i":852},{"t":56.875,"i":828},
      {"t":57.125,"i":822},{"t":57.375,"i":843},{"t":57.625,"i":814},{"t":57.875,"i":835},
      {"t":58.125,"i":839},{"t":58.375,"i":826},{"t":58.625,"i":834},{"t":58.875,"i":811},
      {"t":59.125,"i":823},{"t":59.375,"i":846},{"t":59.625,"i":820},{"t":59.875,"i":831},
      {"t":60.125,"i":813},{"t":60.375,"i":834},{"t":60.625,"i":821},{"t":60.875,"i":842},
      {"t":61.125,"i":828},{"t":61.375,"i":815},{"t":61.625,"i":846},{"t":61.875,"i":822},
      {"t":62.125,"i":816},{"t":62.375,"i":837},{"t":62.625,"i":808},{"t":62.875,"i":829},
      {"t":63.125,"i":833},{"t":63.375,"i":820},{"t":63.625,"i":828},{"t":63.875,"i":805},
      {"t":64.125,"i":817},{"t":64.375,"i":840},{"t":64.625,"i":814},{"t":64.875,"i":825},
      {"t":65.125,"i":808},{"t":65.375,"i":829},{"t":65.625,"i":816},{"t":65.875,"i":837},
      {"t":66.125,"i":823},{"t":66.375,"i":810},{"t":66.625,"i":841},{"t":66.875,"i":817},
      {"t":67.125,"i":811},{"t":67.375,"i":832},{"t":67.625,"i":803},{"t":67.875,"i":824},
      {"t":68.125,"i":828},{"t":68.375,"i":815},{"t":68.625,"i":823},{"t":68.875,"i":800},
      {"t":69.125,"i":813},{"t":69.375,"i":836},{"t":69.625,"i":810},{"t":69.875,"i":821},
      {"t":70.125,"i":804},{"t":70.375,"i":825},{"t":70.625,"i":812},{"t":70.875,"i":833},
      {"t":71.125,"i":819},{"t":71.375,"i":806},{"t":71.625,"i":837},{"t":71.875,"i":813},
      {"t":72.125,"i":807},{"t":72.375,"i":828},{"t":72.625,"i":799},{"t":72.875,"i":820},
      {"t":73.125,"i":825},{"t":73.375,"i":812},{"t":73.625,"i":820},{"t":73.875,"i":797},
      {"t":74.125,"i":809},{"t":74.375,"i":832},{"t":74.625,"i":806},{"t":74.875,"i":817},
      {"t":75.125,"i":800},{"t":75.375,"i":821},{"t":75.625,"i":808},{"t":75.875,"i":829},
      {"t":76.125,"i":816},{"t":76.375,"i":803},{"t":76.625,"i":834},{"t":76.875,"i":810},
      {"t":77.125,"i":804},{"t":77.375,"i":825},{"t":77.625,"i":796},{"t":77.875,"i":817},
      {"t":78.125,"i":821},{"t":78.375,"i":808},{"t":78.625,"i":816},{"t":78.875,"i":793},
      {"t":79.125,"i":806},{"t":79.375,"i":829},{"t":79.625,"i":803},{"t":79.875,"i":814},
      {"t":80.125,"i":797},{"t":80.375,"i":818},{"t":80.625,"i":805},{"t":80.875,"i":826},
      {"t":81.125,"i":812},{"t":81.375,"i":799},{"t":81.625,"i":830},{"t":81.875,"i":806},
      {"t":82.125,"i":800},{"t":82.375,"i":821},{"t":82.625,"i":792},{"t":82.875,"i":813},
      {"t":83.125,"i":817},{"t":83.375,"i":804},{"t":83.625,"i":812},{"t":83.875,"i":789},
      {"t":84.125,"i":801},{"t":84.375,"i":824},{"t":84.625,"i":798},{"t":84.875,"i":809},
      {"t":85.125,"i":792},{"t":85.375,"i":813},{"t":85.625,"i":800},{"t":85.875,"i":821},
      {"t":86.125,"i":807},{"t":86.375,"i":794},{"t":86.625,"i":825},{"t":86.875,"i":801},
      {"t":87.125,"i":795},{"t":87.375,"i":816},{"t":87.625,"i":787},{"t":87.875,"i":808},
      {"t":88.125,"i":812},{"t":88.375,"i":799},{"t":88.625,"i":807},{"t":88.875,"i":784},
      {"t":89.125,"i":796},{"t":89.375,"i":819},{"t":89.625,"i":793},{"t":89.875,"i":804}
    ],
    "sa": [
      {"t":10,"i":465},{"t":10.5,"i":467},{"t":11,"i":468},{"t":11.3,"i":473},{"t":11.6,"i":467},
      {"t":12,"i":464},{"t":12.5,"i":466},{"t":13,"i":463},{"t":13.5,"i":465},{"t":14,"i":464},
      {"t":14.5,"i":466},{"t":15,"i":465},{"t":15.5,"i":467},{"t":16,"i":465},{"t":16.5,"i":466},
      {"t":17,"i":467},{"t":17.5,"i":468},{"t":18,"i":469},{"t":18.5,"i":471},{"t":19,"i":470},
      {"t":19.5,"i":472},{"t":19.9,"i":474},{"t":20.2,"i":480},{"t":20.45,"i":495},{"t":20.6,"i":503},
      {"t":20.75,"i":500},{"t":20.9,"i":488},{"t":21.05,"i":484},{"t":21.2,"i":485},{"t":21.35,"i":500},
      {"t":21.45,"i":560},{"t":21.55,"i":780},{"t":21.62,"i":916},{"t":21.7,"i":900},{"t":21.78,"i":720},
      {"t":21.88,"i":540},{"t":22,"i":490},{"t":22.15,"i":480},{"t":22.3,"i":478},{"t":22.6,"i":476},
      {"t":23,"i":471},{"t":23.3,"i":470},{"t":23.6,"i":474},{"t":23.8,"i":500},{"t":23.95,"i":560},
      {"t":24.08,"i":584},{"t":24.18,"i":575},{"t":24.3,"i":510},{"t":24.45,"i":478},{"t":24.7,"i":470},
      {"t":25,"i":468},{"t":25.5,"i":469},{"t":26,"i":467},{"t":26.5,"i":469},{"t":27,"i":470},
      {"t":27.5,"i":468},{"t":28,"i":467},{"t":28.5,"i":466},{"t":29,"i":467},{"t":29.5,"i":472},
      {"t":29.7,"i":477},{"t":29.9,"i":471},{"t":30.3,"i":467},{"t":30.8,"i":469},{"t":31.3,"i":466},
      {"t":32,"i":465},{"t":33,"i":467},{"t":34,"i":466},{"t":35,"i":465},{"t":36,"i":466},
      {"t":36.3,"i":470},{"t":36.6,"i":465},{"t":37,"i":465},{"t":38,"i":467},{"t":39,"i":468},
      {"t":40,"i":466},{"t":40.6,"i":470},{"t":40.9,"i":479},{"t":41.2,"i":478},{"t":41.5,"i":469},
      {"t":42,"i":466},{"t":43,"i":465},{"t":44,"i":466},{"t":45,"i":465},{"t":46,"i":466},
      {"t":47,"i":465},{"t":48,"i":464},{"t":49,"i":465},{"t":50,"i":464},{"t":51,"i":465},
      {"t":52,"i":464},{"t":53,"i":465},{"t":54,"i":464},{"t":55,"i":464},{"t":56,"i":465},
      {"t":57,"i":464},{"t":58,"i":463},{"t":59,"i":464},{"t":60,"i":464},{"t":62,"i":463},
      {"t":64,"i":464},{"t":66,"i":463},{"t":68,"i":464},{"t":70,"i":463},{"t":72,"i":464},
      {"t":74,"i":463},{"t":76,"i":463},{"t":78,"i":464},{"t":80,"i":463},{"t":82,"i":462},
      {"t":84,"i":463},{"t":86,"i":462},{"t":88,"i":463},{"t":90,"i":462}
    ],
    "bbr": [
      {"t":10,"i":129},{"t":10.25,"i":63},{"t":10.5,"i":151},{"t":10.75,"i":90},
      {"t":11,"i":173},{"t":11.25,"i":107},{"t":11.5,"i":135},{"t":11.75,"i":74},
      {"t":12,"i":157},{"t":12.25,"i":96},{"t":12.5,"i":124},{"t":12.75,"i":68},
      {"t":13,"i":162},{"t":13.25,"i":85},{"t":13.5,"i":146},{"t":13.75,"i":113},
      {"t":14,"i":179},{"t":14.25,"i":80},{"t":14.5,"i":129},{"t":14.75,"i":90},
      {"t":15,"i":140},{"t":15.25,"i":80},{"t":15.5,"i":168},{"t":15.75,"i":102},
      {"t":16,"i":129},{"t":16.25,"i":200},{"t":16.5,"i":179},{"t":16.75,"i":107},
      {"t":17,"i":255},{"t":17.25,"i":156},{"t":17.5,"i":191},{"t":17.75,"i":114},
      {"t":18,"i":228},{"t":18.25,"i":145},{"t":18.5,"i":183},{"t":18.75,"i":108},
      {"t":19,"i":305},{"t":19.25,"i":140},{"t":19.5,"i":300},{"t":19.75,"i":177},
      {"t":20,"i":289},{"t":20.25,"i":136},{"t":20.5,"i":212},{"t":20.75,"i":153},
      {"t":21,"i":236},{"t":21.25,"i":137},{"t":21.5,"i":281},{"t":21.75,"i":173},
      {"t":22,"i":345},{"t":22.25,"i":120},{"t":22.5,"i":272},{"t":22.75,"i":168},
      {"t":23,"i":335},{"t":23.25,"i":206},{"t":23.5,"i":254},{"t":23.75,"i":149},
      {"t":24,"i":305},{"t":24.25,"i":195},{"t":24.5,"i":336},{"t":24.75,"i":145},
      {"t":25,"i":329},{"t":25.25,"i":182},{"t":25.5,"i":360},{"t":25.75,"i":235},
      {"t":26,"i":440},{"t":26.25,"i":188},{"t":26.5,"i":287},{"t":26.75,"i":210},
      {"t":27,"i":230},{"t":27.25,"i":440},{"t":27.5,"i":369},{"t":27.75,"i":237},
      {"t":28,"i":287},{"t":28.25,"i":155},{"t":28.5,"i":451},{"t":28.75,"i":210},
      {"t":29,"i":360},{"t":29.25,"i":234},{"t":29.5,"i":287},{"t":29.75,"i":171},
      {"t":30,"i":329},{"t":30.25,"i":213},{"t":30.5,"i":439},{"t":30.75,"i":161},
      {"t":31,"i":334},{"t":31.25,"i":187},{"t":31.5,"i":303},{"t":31.75,"i":412},
      {"t":32,"i":335},{"t":32.25,"i":155},{"t":32.5,"i":245},{"t":32.75,"i":175},
      {"t":33,"i":219},{"t":33.25,"i":126},{"t":33.5,"i":262},{"t":33.75,"i":160},
      {"t":34,"i":175},{"t":34.25,"i":85},{"t":34.5,"i":205},{"t":34.75,"i":123},
      {"t":35,"i":225},{"t":35.25,"i":141},{"t":35.5,"i":176},{"t":35.75,"i":99},
      {"t":36,"i":204},{"t":36.25,"i":127},{"t":36.5,"i":162},{"t":36.75,"i":92},
      {"t":37,"i":211},{"t":37.25,"i":113},{"t":37.5,"i":190},{"t":37.75,"i":259},
      {"t":38,"i":232},{"t":38.25,"i":106},{"t":38.5,"i":169},{"t":38.75,"i":259},
      {"t":39,"i":177},{"t":39.25,"i":102},{"t":39.5,"i":211},{"t":39.75,"i":130},
      {"t":40,"i":164},{"t":40.25,"i":80},{"t":40.5,"i":192},{"t":40.75,"i":322},
      {"t":41,"i":240},{"t":41.25,"i":129},{"t":41.5,"i":162},{"t":41.75,"i":90},
      {"t":42,"i":188},{"t":42.25,"i":116},{"t":42.5,"i":149},{"t":42.75,"i":84},
      {"t":43,"i":194},{"t":43.25,"i":103},{"t":43.5,"i":175},{"t":43.75,"i":136},
      {"t":44,"i":214},{"t":44.25,"i":97},{"t":44.5,"i":259},{"t":44.75,"i":110},
      {"t":45,"i":163},{"t":45.25,"i":95},{"t":45.5,"i":194},{"t":45.75,"i":119},
      {"t":46,"i":150},{"t":46.25,"i":76},{"t":46.5,"i":175},{"t":46.75,"i":107},
      {"t":47,"i":200},{"t":47.25,"i":126},{"t":47.5,"i":157},{"t":47.75,"i":246},
      {"t":48,"i":181},{"t":48.25,"i":113},{"t":48.5,"i":144},{"t":48.75,"i":82},
      {"t":49,"i":188},{"t":49.25,"i":101},{"t":49.5,"i":169},{"t":49.75,"i":132},
      {"t":50,"i":194},{"t":50.25,"i":86},{"t":50.5,"i":140},{"t":50.75,"i":98},
      {"t":51,"i":152},{"t":51.25,"i":40},{"t":51.5,"i":182},{"t":51.75,"i":110},
      {"t":52,"i":140},{"t":52.25,"i":68},{"t":52.5,"i":164},{"t":52.75,"i":98},
      {"t":53,"i":188},{"t":53.25,"i":116},{"t":53.5,"i":146},{"t":53.75,"i":80},
      {"t":54,"i":170},{"t":54.25,"i":104},{"t":54.5,"i":134},{"t":54.75,"i":74},
      {"t":55,"i":176},{"t":55.25,"i":92},{"t":55.5,"i":246},{"t":55.75,"i":122},
      {"t":56,"i":194},{"t":56.25,"i":86},{"t":56.5,"i":140},{"t":56.75,"i":98},
      {"t":57,"i":152},{"t":57.25,"i":86},{"t":57.5,"i":182},{"t":57.75,"i":110},
      {"t":58,"i":140},{"t":58.25,"i":68},{"t":58.5,"i":164},{"t":58.75,"i":98},
      {"t":59,"i":188},{"t":59.25,"i":116},{"t":59.5,"i":230},{"t":59.75,"i":80},
      {"t":60,"i":164},{"t":60.25,"i":98},{"t":60.5,"i":128},{"t":60.75,"i":68},
      {"t":61,"i":170},{"t":61.25,"i":86},{"t":61.5,"i":152},{"t":61.75,"i":116},
      {"t":62,"i":188},{"t":62.25,"i":80},{"t":62.5,"i":246},{"t":62.75,"i":92},
      {"t":63,"i":146},{"t":63.25,"i":80},{"t":63.5,"i":176},{"t":63.75,"i":104},
      {"t":64,"i":134},{"t":64.25,"i":62},{"t":64.5,"i":158},{"t":64.75,"i":92},
      {"t":65,"i":182},{"t":65.25,"i":110},{"t":65.5,"i":140},{"t":65.75,"i":74},
      {"t":66,"i":164},{"t":66.25,"i":98},{"t":66.5,"i":246},{"t":66.75,"i":68},
      {"t":67,"i":170},{"t":67.25,"i":86},{"t":67.5,"i":152},{"t":67.75,"i":116},
      {"t":68,"i":188},{"t":68.25,"i":80},{"t":68.5,"i":134},{"t":68.75,"i":92},
      {"t":69,"i":146},{"t":69.25,"i":80},{"t":69.5,"i":176},{"t":69.75,"i":232},
      {"t":70,"i":126},{"t":70.25,"i":56},{"t":70.5,"i":149},{"t":70.75,"i":85},
      {"t":71,"i":172},{"t":71.25,"i":102},{"t":71.5,"i":131},{"t":71.75,"i":68},
      {"t":72,"i":155},{"t":72.25,"i":91},{"t":72.5,"i":120},{"t":72.75,"i":62},
      {"t":73,"i":160},{"t":73.25,"i":79},{"t":73.5,"i":143},{"t":73.75,"i":108},
      {"t":74,"i":178},{"t":74.25,"i":73},{"t":74.5,"i":126},{"t":74.75,"i":85},
      {"t":75,"i":137},{"t":75.25,"i":73},{"t":75.5,"i":166},{"t":75.75,"i":97},
      {"t":76,"i":126},{"t":76.25,"i":56},{"t":76.5,"i":149},{"t":76.75,"i":85},
      {"t":77,"i":172},{"t":77.25,"i":102},{"t":77.5,"i":131},{"t":77.75,"i":68},
      {"t":78,"i":222},{"t":78.25,"i":91},{"t":78.5,"i":120},{"t":78.75,"i":62},
      {"t":79,"i":160},{"t":79.25,"i":79},{"t":79.5,"i":143},{"t":79.75,"i":108},
      {"t":80,"i":168},{"t":80.25,"i":67},{"t":80.5,"i":117},{"t":80.75,"i":78},
      {"t":81,"i":128},{"t":81.25,"i":67},{"t":81.5,"i":195},{"t":81.75,"i":89},
      {"t":82,"i":117},{"t":82.25,"i":50},{"t":82.5,"i":140},{"t":82.75,"i":78},
      {"t":83,"i":162},{"t":83.25,"i":95},{"t":83.5,"i":123},{"t":83.75,"i":61},
      {"t":84,"i":145},{"t":84.25,"i":84},{"t":84.5,"i":112},{"t":84.75,"i":56},
      {"t":85,"i":194},{"t":85.25,"i":72},{"t":85.5,"i":134},{"t":85.75,"i":100},
      {"t":86,"i":168},{"t":86.25,"i":67},{"t":86.5,"i":117},{"t":86.75,"i":78},
      {"t":87,"i":128},{"t":87.25,"i":67},{"t":87.5,"i":156},{"t":87.75,"i":89},
      {"t":88,"i":117},{"t":88.25,"i":50},{"t":88.5,"i":140},{"t":88.75,"i":78},
      {"t":89,"i":162},{"t":89.25,"i":95},{"t":89.5,"i":123},{"t":89.75,"i":61},
      {"t":90,"i":110},
      {"t":10.125,"i":90},{"t":10.375,"i":135},{"t":10.625,"i":107},{"t":10.875,"i":151},
      {"t":11.125,"i":124},{"t":11.375,"i":96},{"t":11.625,"i":162},{"t":11.875,"i":113},
      {"t":12.125,"i":102},{"t":12.375,"i":146},{"t":12.625,"i":85},{"t":12.875,"i":129},
      {"t":13.125,"i":140},{"t":13.375,"i":113},{"t":13.625,"i":129},{"t":13.875,"i":80},
      {"t":14.125,"i":107},{"t":14.375,"i":157},{"t":14.625,"i":102},{"t":14.875,"i":124},
      {"t":15.125,"i":90},{"t":15.375,"i":135},{"t":15.625,"i":107},{"t":15.875,"i":151},
      {"t":16.125,"i":125},{"t":16.375,"i":114},{"t":16.625,"i":192},{"t":16.875,"i":134},
      {"t":17.125,"i":149},{"t":17.375,"i":205},{"t":17.625,"i":128},{"t":17.875,"i":184},
      {"t":18.125,"i":205},{"t":18.375,"i":168},{"t":18.625,"i":190},{"t":18.875,"i":122},
      {"t":19.125,"i":169},{"t":19.375,"i":241},{"t":19.625,"i":161},{"t":19.875,"i":193},
      {"t":20.125,"i":153},{"t":20.375,"i":221},{"t":20.625,"i":178},{"t":20.875,"i":246},
      {"t":21.125,"i":209},{"t":21.375,"i":164},{"t":21.625,"i":272},{"t":21.875,"i":191},
      {"t":22.125,"i":187},{"t":22.375,"i":263},{"t":22.625,"i":158},{"t":22.875,"i":234},
      {"t":23.125,"i":263},{"t":23.375,"i":216},{"t":23.625,"i":244},{"t":23.875,"i":159},
      {"t":24.125,"i":215},{"t":24.375,"i":305},{"t":24.625,"i":205},{"t":24.875,"i":245},
      {"t":25.125,"i":193},{"t":25.375,"i":277},{"t":25.625,"i":224},{"t":25.875,"i":308},
      {"t":26.125,"i":276},{"t":26.375,"i":221},{"t":26.625,"i":353},{"t":26.875,"i":254},
      {"t":27.125,"i":237},{"t":27.375,"i":325},{"t":27.625,"i":204},{"t":27.875,"i":292},
      {"t":28.125,"i":309},{"t":28.375,"i":254},{"t":28.625,"i":287},{"t":28.875,"i":188},
      {"t":29.125,"i":234},{"t":29.375,"i":329},{"t":29.625,"i":224},{"t":29.875,"i":266},
      {"t":30.125,"i":203},{"t":30.375,"i":287},{"t":30.625,"i":234},{"t":30.875,"i":318},
      {"t":31.125,"i":261},{"t":31.375,"i":208},{"t":31.625,"i":334},{"t":31.875,"i":240},
      {"t":32.125,"i":195},{"t":32.375,"i":275},{"t":32.625,"i":165},{"t":32.875,"i":245},
      {"t":33.125,"i":219},{"t":33.375,"i":177},{"t":33.625,"i":202},{"t":33.875,"i":126},
      {"t":34.125,"i":145},{"t":34.375,"i":213},{"t":34.625,"i":138},{"t":34.875,"i":168},
      {"t":35.125,"i":120},{"t":35.375,"i":176},{"t":35.625,"i":141},{"t":35.875,"i":197},
      {"t":36.125,"i":162},{"t":36.375,"i":127},{"t":36.625,"i":211},{"t":36.875,"i":148},
      {"t":37.125,"i":134},{"t":37.375,"i":190},{"t":37.625,"i":113},{"t":37.875,"i":169},
      {"t":38.125,"i":183},{"t":38.375,"i":148},{"t":38.625,"i":169},{"t":38.875,"i":106},
      {"t":39.125,"i":136},{"t":39.375,"i":198},{"t":39.625,"i":130},{"t":39.875,"i":157},
      {"t":40.125,"i":115},{"t":40.375,"i":171},{"t":40.625,"i":136},{"t":40.875,"i":250},
      {"t":41.125,"i":149},{"t":41.375,"i":116},{"t":41.625,"i":194},{"t":41.875,"i":136},
      {"t":42.125,"i":122},{"t":42.375,"i":175},{"t":42.625,"i":103},{"t":42.875,"i":155},
      {"t":43.125,"i":168},{"t":43.375,"i":136},{"t":43.625,"i":155},{"t":43.875,"i":97},
      {"t":44.125,"i":129},{"t":44.375,"i":188},{"t":44.625,"i":123},{"t":44.875,"i":149},
      {"t":45.125,"i":107},{"t":45.375,"i":157},{"t":45.625,"i":126},{"t":45.875,"i":175},
      {"t":46.125,"i":144},{"t":46.375,"i":113},{"t":46.625,"i":188},{"t":46.875,"i":132},
      {"t":47.125,"i":119},{"t":47.375,"i":169},{"t":47.625,"i":101},{"t":47.875,"i":150},
      {"t":48.125,"i":163},{"t":48.375,"i":132},{"t":48.625,"i":150},{"t":48.875,"i":95},
      {"t":49.125,"i":126},{"t":49.375,"i":181},{"t":49.625,"i":119},{"t":49.875,"i":144},
      {"t":50.125,"i":98},{"t":50.375,"i":146},{"t":50.625,"i":116},{"t":50.875,"i":164},
      {"t":51.125,"i":134},{"t":51.375,"i":104},{"t":51.625,"i":176},{"t":51.875,"i":122},
      {"t":52.125,"i":110},{"t":52.375,"i":158},{"t":52.625,"i":92},{"t":52.875,"i":140},
      {"t":53.125,"i":152},{"t":53.375,"i":122},{"t":53.625,"i":140},{"t":53.875,"i":86},
      {"t":54.125,"i":116},{"t":54.375,"i":170},{"t":54.625,"i":110},{"t":54.875,"i":134},
      {"t":55.125,"i":98},{"t":55.375,"i":146},{"t":55.625,"i":116},{"t":55.875,"i":164},
      {"t":56.125,"i":134},{"t":56.375,"i":104},{"t":56.625,"i":176},{"t":56.875,"i":122},
      {"t":57.125,"i":110},{"t":57.375,"i":158},{"t":57.625,"i":92},{"t":57.875,"i":140},
      {"t":58.125,"i":152},{"t":58.375,"i":122},{"t":58.625,"i":140},{"t":58.875,"i":86},
      {"t":59.125,"i":116},{"t":59.375,"i":170},{"t":59.625,"i":110},{"t":59.875,"i":134},
      {"t":60.125,"i":92},{"t":60.375,"i":140},{"t":60.625,"i":110},{"t":60.875,"i":158},
      {"t":61.125,"i":128},{"t":61.375,"i":98},{"t":61.625,"i":170},{"t":61.875,"i":116},
      {"t":62.125,"i":104},{"t":62.375,"i":152},{"t":62.625,"i":86},{"t":62.875,"i":134},
      {"t":63.125,"i":146},{"t":63.375,"i":116},{"t":63.625,"i":134},{"t":63.875,"i":80},
      {"t":64.125,"i":110},{"t":64.375,"i":164},{"t":64.625,"i":104},{"t":64.875,"i":128},
      {"t":65.125,"i":92},{"t":65.375,"i":140},{"t":65.625,"i":110},{"t":65.875,"i":158},
      {"t":66.125,"i":128},{"t":66.375,"i":98},{"t":66.625,"i":170},{"t":66.875,"i":116},
      {"t":67.125,"i":104},{"t":67.375,"i":152},{"t":67.625,"i":86},{"t":67.875,"i":134},
      {"t":68.125,"i":146},{"t":68.375,"i":116},{"t":68.625,"i":134},{"t":68.875,"i":80},
      {"t":69.125,"i":110},{"t":69.375,"i":164},{"t":69.625,"i":104},{"t":69.875,"i":128},
      {"t":70.125,"i":85},{"t":70.375,"i":131},{"t":70.625,"i":102},{"t":70.875,"i":149},
      {"t":71.125,"i":120},{"t":71.375,"i":91},{"t":71.625,"i":160},{"t":71.875,"i":108},
      {"t":72.125,"i":97},{"t":72.375,"i":143},{"t":72.625,"i":79},{"t":72.875,"i":126},
      {"t":73.125,"i":137},{"t":73.375,"i":108},{"t":73.625,"i":126},{"t":73.875,"i":73},
      {"t":74.125,"i":102},{"t":74.375,"i":155},{"t":74.625,"i":97},{"t":74.875,"i":120},
      {"t":75.125,"i":85},{"t":75.375,"i":131},{"t":75.625,"i":102},{"t":75.875,"i":149},
      {"t":76.125,"i":120},{"t":76.375,"i":91},{"t":76.625,"i":160},{"t":76.875,"i":108},
      {"t":77.125,"i":97},{"t":77.375,"i":143},{"t":77.625,"i":79},{"t":77.875,"i":126},
      {"t":78.125,"i":137},{"t":78.375,"i":108},{"t":78.625,"i":126},{"t":78.875,"i":73},
      {"t":79.125,"i":102},{"t":79.375,"i":155},{"t":79.625,"i":97},{"t":79.875,"i":120},
      {"t":80.125,"i":78},{"t":80.375,"i":123},{"t":80.625,"i":95},{"t":80.875,"i":140},
      {"t":81.125,"i":112},{"t":81.375,"i":84},{"t":81.625,"i":151},{"t":81.875,"i":100},
      {"t":82.125,"i":89},{"t":82.375,"i":134},{"t":82.625,"i":72},{"t":82.875,"i":117},
      {"t":83.125,"i":128},{"t":83.375,"i":100},{"t":83.625,"i":117},{"t":83.875,"i":67},
      {"t":84.125,"i":95},{"t":84.375,"i":145},{"t":84.625,"i":89},{"t":84.875,"i":112},
      {"t":85.125,"i":78},{"t":85.375,"i":123},{"t":85.625,"i":95},{"t":85.875,"i":140},
      {"t":86.125,"i":112},{"t":86.375,"i":84},{"t":86.625,"i":151},{"t":86.875,"i":100},
      {"t":87.125,"i":89},{"t":87.375,"i":134},{"t":87.625,"i":72},{"t":87.875,"i":117},
      {"t":88.125,"i":128},{"t":88.375,"i":100},{"t":88.625,"i":117},{"t":88.875,"i":67},
      {"t":89.125,"i":95},{"t":89.375,"i":145},{"t":89.625,"i":89},{"t":89.875,"i":112}
    ],
    "seriesLabels": [
      {"t":69.6,"i":1422,"label":"CS-SA/BBR NPs"},
      {"t":80.9,"i":900,"label":"CS"},
      {"t":80.9,"i":564,"label":"SA"},
      {"t":80.9,"i":257,"label":"BBR"}
    ]
  },
  "encoding": {
    "x": {
      "field": "t",
      "type": "quantitative",
      "scale": {"domain": [10, 90], "nice": false, "zero": false},
      "axis": {
        "title": "2θ (degrees)",
        "values": [10, 20, 30, 40, 50, 60, 70, 80, 90],
        "grid": false,
        "domainColor": "black",
        "domainWidth": 3,
        "tickColor": "black",
        "tickWidth": 3,
        "tickSize": -9,
        "labelFont": "Liberation Serif",
        "labelFontWeight": "bold",
        "labelFontSize": 48,
        "labelColor": "black",
        "labelPadding": 31,
        "labelFlush": false,
        "labelOverlap": false,
        "titleFont": "Liberation Serif",
        "titleFontWeight": "bold",
        "titleFontSize": 62,
        "titleColor": "black",
        "titleBaseline": "alphabetic",
        "titleAlign": "center",
        "titleX": 877,
        "titleY": 155
      }
    },
    "y": {
      "field": "i",
      "type": "quantitative",
      "scale": {"domain": [0, 1560], "nice": false, "zero": false},
      "axis": null
    }
  },
  "layer": [
    {
      "data": {"name": "bbr"},
      "mark": {"type": "line", "color": "#A5A5A5", "strokeWidth": 3.4}
    },
    {
      "data": {"name": "sa"},
      "mark": {"type": "line", "color": "#5B9BD5", "strokeWidth": 4}
    },
    {
      "data": {"name": "cs"},
      "mark": {"type": "line", "color": "#ED7D31", "strokeWidth": 3.4}
    },
    {
      "data": {"name": "csSaBbrNps"},
      "mark": {"type": "line", "color": "#4472C4", "strokeWidth": 3.4}
    },
    {
      "data": {"name": "seriesLabels"},
      "mark": {
        "type": "text",
        "align": "left",
        "baseline": "middle",
        "font": "Liberation Serif",
        "fontWeight": "bold",
        "fontSize": 48,
        "color": "black"
      },
      "encoding": {"text": {"field": "label", "type": "nominal"}}
    }
  ]
}
